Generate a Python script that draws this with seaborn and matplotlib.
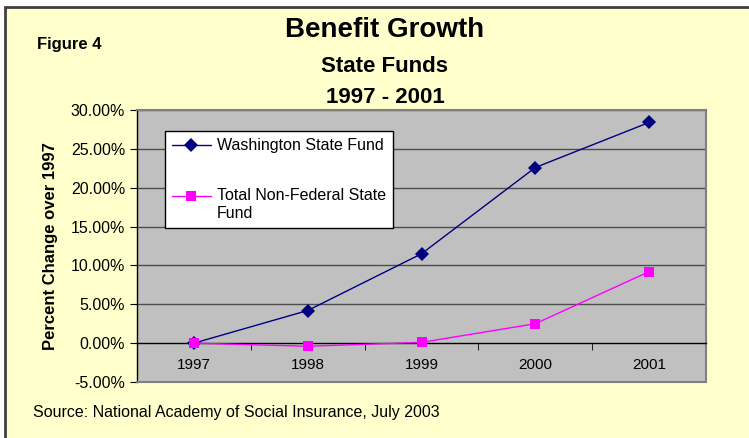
"""Benefit growth of state funds, 1997 - 2001."""
import matplotlib.pyplot as plt
import matplotlib.patches as mpatches
import matplotlib.ticker as mticker
from matplotlib.legend_handler import HandlerLine2D
import numpy as np
import pandas as pd
import seaborn as sns

years = ["1997", "1998", "1999", "2000", "2001"]
washington = [0.0, 4.2, 11.5, 22.6, 28.4]
non_federal = [0.0, -0.4, 0.1, 2.5, 9.2]
series_names = ["Washington State Fund", "Total Non-Federal State\nFund"]

W, H = 749, 438


class RaisedHandler(HandlerLine2D):
    """Legend handle moved up so it lines up with the first text line."""

    def __init__(self, dy=0.0, **kw):
        super().__init__(**kw)
        self.dy = dy

    def create_artists(self, legend, orig_handle, xdescent, ydescent,
                       width, height, fontsize, trans):
        return super().create_artists(legend, orig_handle, xdescent,
                                      ydescent - 2 * self.dy, width, height,
                                      fontsize, trans)


sns.set_style("white")
plt.rcParams["font.family"] = ["Liberation Sans", "DejaVu Sans"]
plt.rcParams["text.color"] = "black"
plt.rcParams["axes.labelcolor"] = "black"
plt.rcParams["xtick.color"] = "black"
plt.rcParams["ytick.color"] = "black"

df = pd.DataFrame({
    "pos": list(range(len(years))) * 2,
    "value": washington + non_federal,
    "series": [series_names[0]] * len(years) + [series_names[1]] * len(years),
})

fig = plt.figure(figsize=(W / 100, H / 100), dpi=100, facecolor="white")

# yellow frame, only the top and left edges are inside the picture
frame = mpatches.Rectangle((5 / W, 1 - 7 / H), 1.0, -1.0, transform=fig.transFigure,
                           facecolor="#FFFFCC", edgecolor="#404040", linewidth=2.0,
                           zorder=-10)
fig.patches.append(frame)

left, right, top, bottom = 137, 706, 110, 382
ax = fig.add_axes([left / W, 1 - bottom / H, (right - left) / W, (bottom - top) / H])
ax.set_zorder(5)
ax.set_facecolor("#C0C0C0")

for v in np.arange(5, 31, 5):
    ax.axhline(v, color="#4d4d4d", linewidth=1.0, zorder=1)

sns.lineplot(data=df, x="pos", y="value", hue="series", style="series",
             palette={series_names[0]: "#000080", series_names[1]: "#FF00FF"},
             markers={series_names[0]: "D", series_names[1]: "s"},
             dashes=False, markersize=7, linewidth=1.0, markeredgewidth=0,
             ax=ax, zorder=3)

ax.set_xlim(-0.5, len(years) - 0.5)
ax.set_ylim(-5, 30)

# category axis sits on the zero line
ax.spines["bottom"].set_position(("data", 0))
ax.spines["bottom"].set_color("black")
ax.spines["bottom"].set_linewidth(1.0)
ax.spines["left"].set_color("black")
ax.spines["left"].set_linewidth(1.0)
for s in ["top", "right"]:
    ax.spines[s].set_color("#808080")
    ax.spines[s].set_linewidth(1.5)
ax.plot([0, 1], [0, 0], transform=ax.transAxes, color="#808080",
        linewidth=1.5, clip_on=False, zorder=5)

ax.set_xticks(range(len(years)))
ax.set_xticklabels(years)
ax.set_xticks(np.arange(0.5, len(years) - 0.5, 1.0), minor=True)
ax.tick_params(axis="x", which="major", length=0, pad=11, labelsize=11)
ax.tick_params(axis="x", which="minor", length=5, direction="out", color="black",
               bottom=True)
ax.set_yticks(np.arange(-5, 31, 5))
ax.yaxis.set_major_formatter(mticker.FuncFormatter(lambda v, p: f"{v:.2f}%"))
ax.tick_params(axis="y", length=5, direction="out", color="black", labelsize=11.5,
               left=True)
ax.set_xlabel("")
ax.set_ylabel("Percent Change over 1997", fontsize=12, fontweight="bold", labelpad=9)

handles, labels = ax.get_legend_handles_labels()
leg = ax.legend(handles, labels, loc="upper left",
                bbox_to_anchor=((165 - left) / (right - left),
                                1 - (131 - top) / (bottom - top)),
                borderaxespad=0, fontsize=11.5, frameon=True, fancybox=False,
                framealpha=1, edgecolor="black", labelspacing=2.2,
                handlelength=2.4, handletextpad=0.4, borderpad=0.45,
                handler_map={handles[1]: RaisedHandler(dy=6.5)})
leg.get_frame().set_linewidth(1.0)

fig.text(385 / W, 1 - 30 / H, "Benefit Growth", ha="center", va="center",
         fontsize=20, fontweight="bold")
fig.text(385 / W, 1 - 66 / H, "State Funds", ha="center", va="center",
         fontsize=16, fontweight="bold")
fig.text(385 / W, 1 - 98 / H, "1997 - 2001", ha="center", va="center",
         fontsize=16, fontweight="bold")
fig.text(37 / W, 1 - 45 / H, "Figure 4", ha="left", va="center",
         fontsize=12, fontweight="bold")
fig.text(33 / W, 1 - 413 / H, "Source: National Academy of Social Insurance, July 2003",
         ha="left", va="center", fontsize=11.5)

fig.savefig("out.png", dpi=100, facecolor=fig.get_facecolor())
